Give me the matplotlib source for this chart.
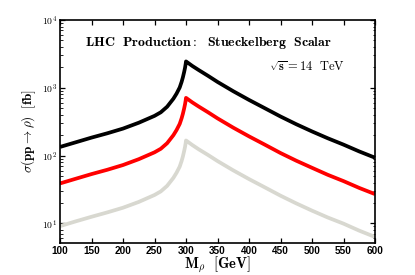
import matplotlib
matplotlib.use("Agg")
import matplotlib.pyplot as plt
from matplotlib.ticker import LogLocator, NullFormatter, FixedLocator

plt.rcParams['mathtext.fontset'] = 'cm'

mass = [100, 125, 150, 175, 200, 225, 250, 260, 270, 280, 285, 290, 293, 295, 297, 298.5, 299.5, 300,
        310, 320, 335, 350, 375, 400, 425, 450, 475, 500, 525, 550, 575, 600]
sigma_black = [134, 157, 184, 213, 250, 305, 385, 435, 525, 690, 820, 1010, 1220, 1420, 1700, 1980, 2250, 2450,
               2100, 1830, 1500, 1220, 890, 662, 500, 377, 290, 227, 180, 145, 115, 93]
sigma_red = [38.8, 45.5, 53.3, 61.7, 72.5, 88.4, 111.6, 126, 152, 200, 238, 293, 354, 412, 493, 574, 652, 710,
             609, 530, 435, 354, 258, 192, 145, 109, 84, 66, 52, 42, 33.3, 27]
sigma_gray = [9.1, 10.7, 12.5, 14.5, 17, 20.7, 26.2, 29.6, 35.7, 46.9, 55.8, 68.7, 83, 96.6, 116, 135, 153, 167,
              143, 124, 102, 83, 60.5, 45, 34, 25.6, 19.7, 15.4, 12.2, 9.9, 7.8, 6.3]

xticks = [100, 150, 200, 250, 300, 350, 400, 450, 500, 550, 600]
yticks = [10, 100, 1000, 10000]
ytick_labels = [r'$\mathbf{10^{1}}$', r'$\mathbf{10^{2}}$', r'$\mathbf{10^{3}}$', r'$\mathbf{10^{4}}$']

fig = plt.figure(figsize=(4.15, 2.75), dpi=100)
ax = fig.add_axes([60/415, 1 - 243/275, 315/415, 223/275])

ax.plot(mass, sigma_gray, color='#d8d8d0', lw=2.7, solid_capstyle='butt', solid_joinstyle='round')
ax.plot(mass, sigma_red, color='#ff0000', lw=2.7, solid_capstyle='butt', solid_joinstyle='round')
ax.plot(mass, sigma_black, color='black', lw=2.7, solid_capstyle='butt', solid_joinstyle='round')

ax.set_yscale('log')
ax.set_xlim(100, 600)
ax.set_ylim(10**0.71, 10**4)

ax.set_xticks(xticks)
ax.set_xticklabels([str(v) for v in xticks], fontsize=7.2, fontweight='bold', family='Liberation Sans')
ax.yaxis.set_major_locator(FixedLocator(yticks))
ax.set_yticklabels(ytick_labels, fontsize=7)
ax.yaxis.set_minor_locator(LogLocator(base=10, subs=range(2, 10)))
ax.yaxis.set_minor_formatter(NullFormatter())

ax.tick_params(which='both', direction='in', top=True, right=True)
ax.tick_params(which='major', length=3.5, width=0.9, pad=2)
ax.tick_params(which='minor', length=1.8, width=0.6)
for s in ax.spines.values():
    s.set_linewidth(1.2)

ax.set_xlabel(r'$\mathbf{M}_\rho\ \ [\mathbf{GeV}]$', fontsize=10.5, labelpad=-1)
ax.set_ylabel(r'$\sigma(\mathbf{pp}\rightarrow\rho)\ \ [\mathbf{fb}]$', fontsize=9.5, labelpad=3)

ax.text(0.47, 0.895, r'$\mathbf{LHC\ \ Production:\ \ Stueckelberg\ \ Scalar}$', transform=ax.transAxes,
        ha='center', va='center', fontsize=10)
ax.text(0.785, 0.79, r'$\sqrt{\mathbf{s}} = \mathbf{14}\ \ \mathrm{TeV}$', transform=ax.transAxes,
        ha='center', va='center', fontsize=9)

fig.savefig('out.png', dpi=100)
